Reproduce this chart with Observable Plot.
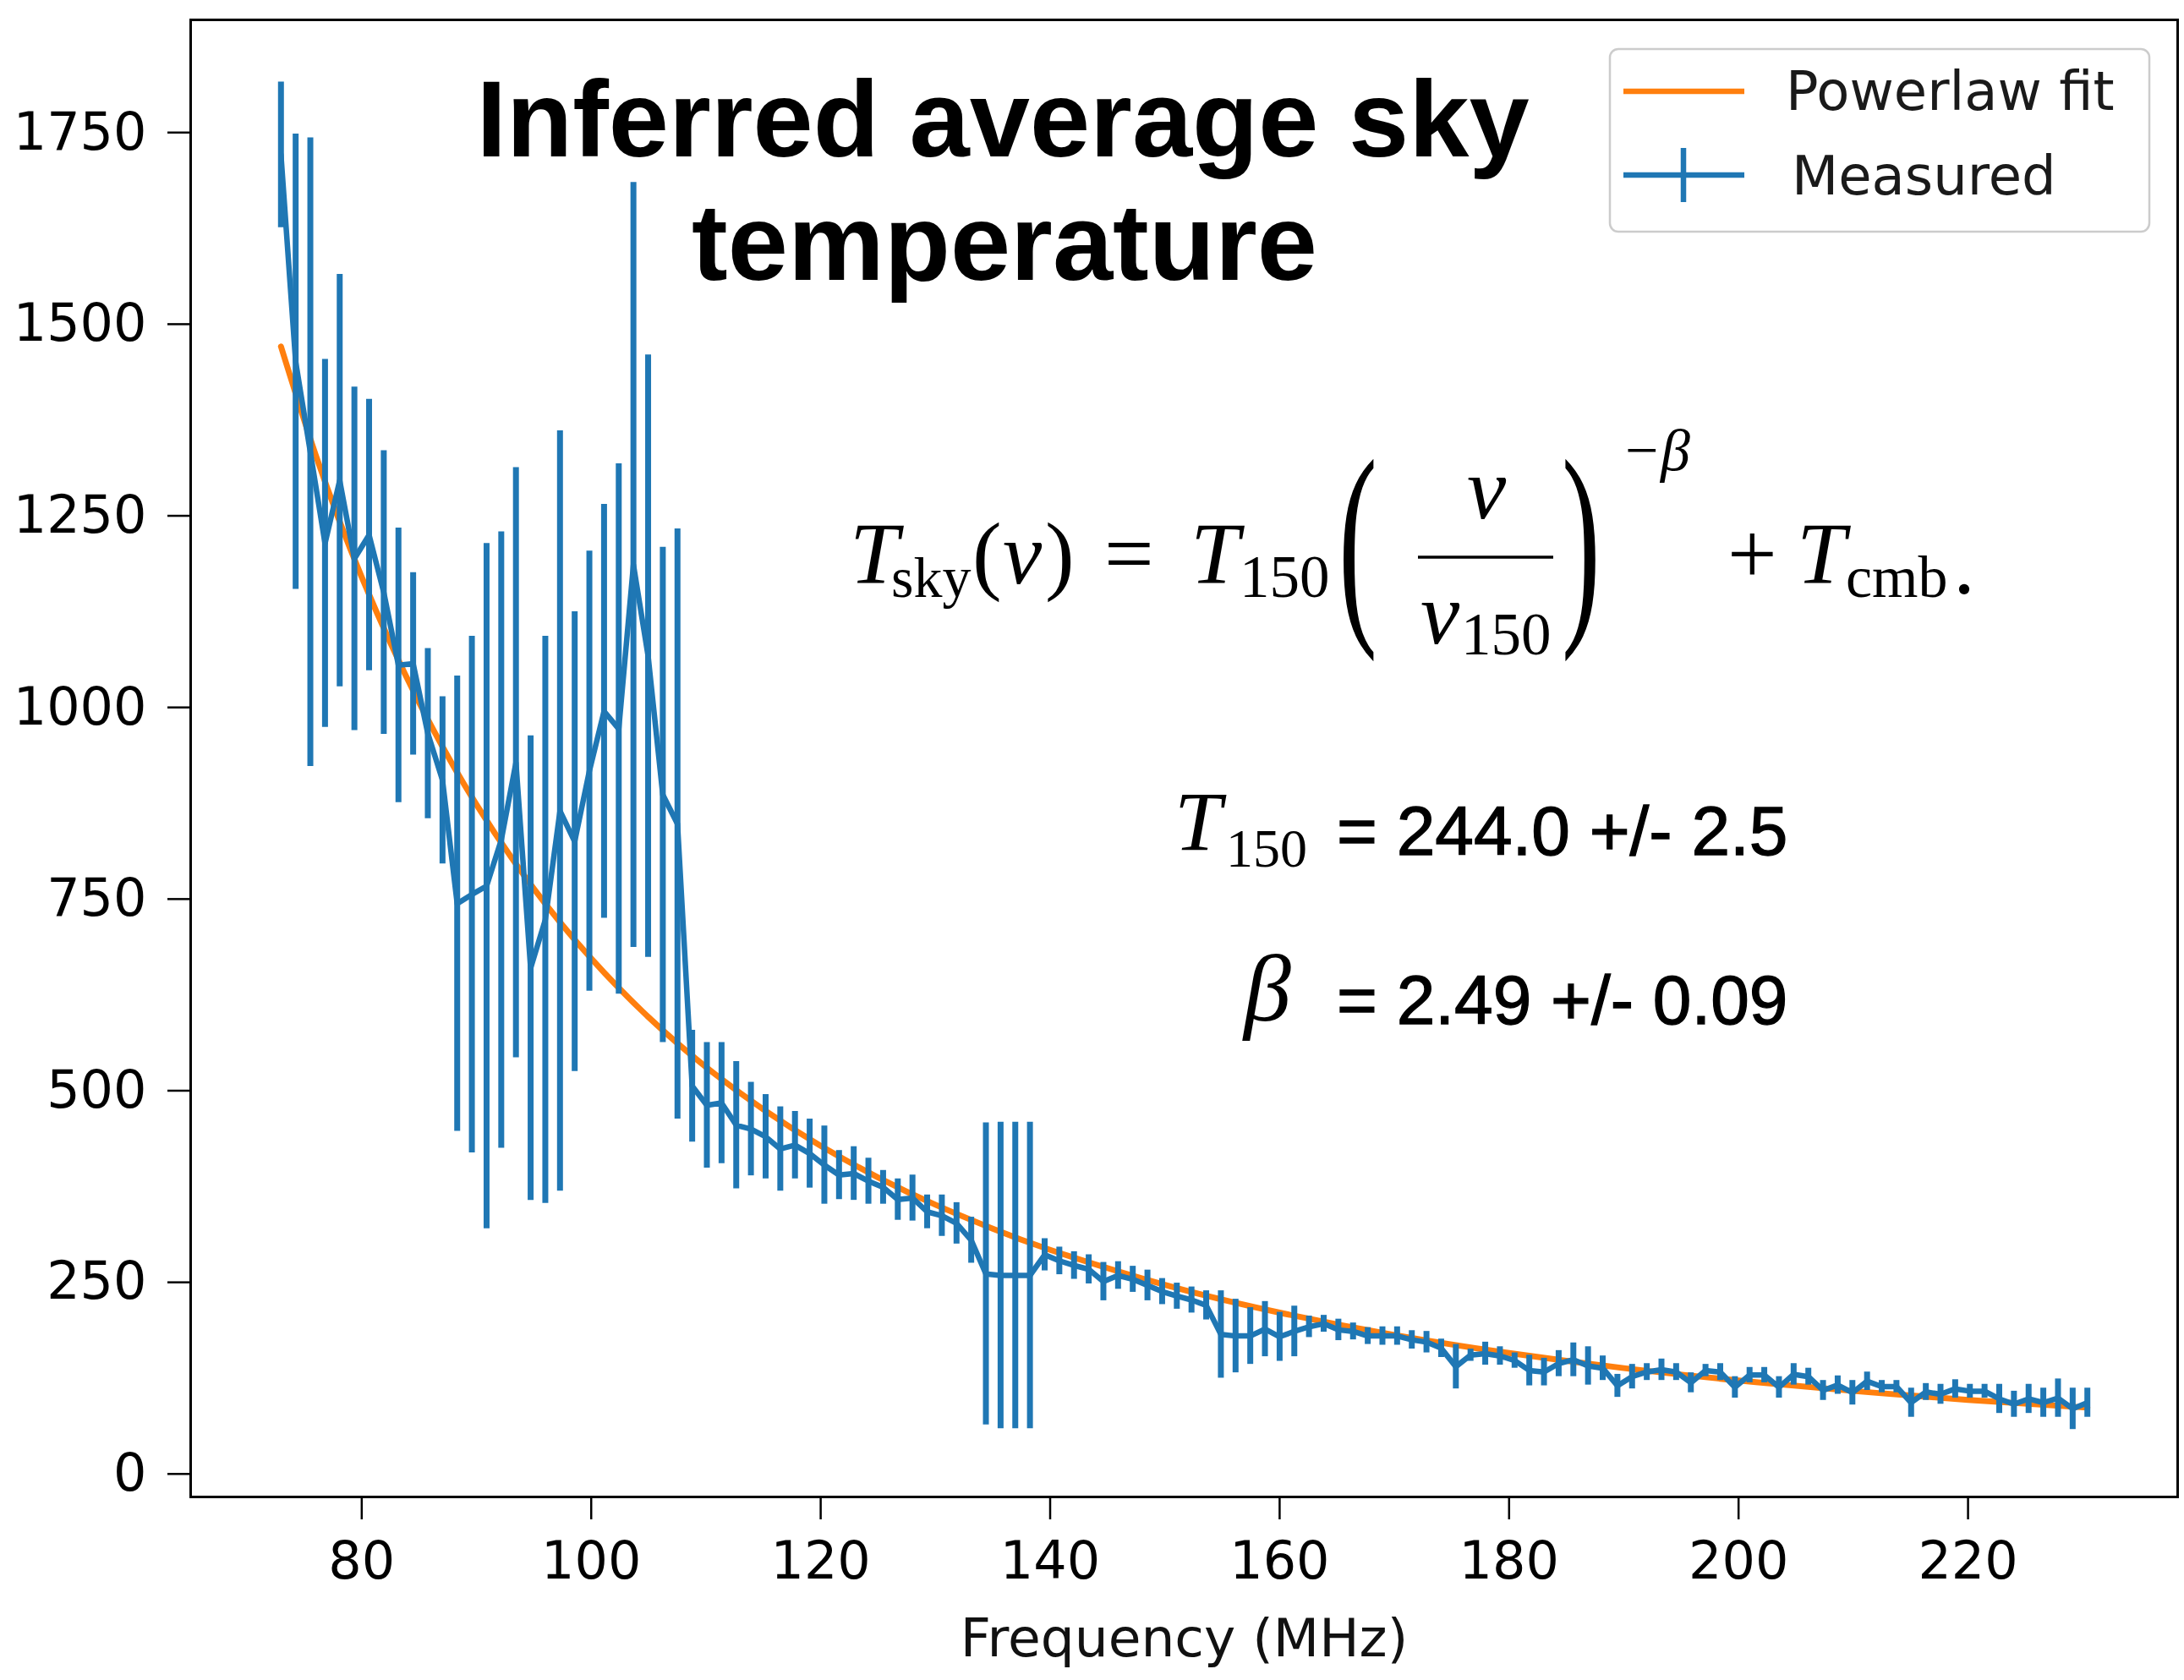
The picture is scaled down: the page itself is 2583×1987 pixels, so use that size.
<!DOCTYPE html>
<html>
<head>
<meta charset="utf-8">
<script src="https://cdn.jsdelivr.net/npm/d3@7"></script>
<script src="https://cdn.jsdelivr.net/npm/@observablehq/plot@0.6"></script>
<style>
  html, body { margin: 0; padding: 0; background: #fff; }
  #wrap { position: relative; width: 2583px; height: 1987px; background: #fff; }
  #overlay { position: absolute; left: 0; top: 0; pointer-events: none; }
</style>
</head>
<body>
<div id="wrap"></div>
<script>
// ---- data ----
const freqMHz = [
  72.96, 74.24, 75.52, 76.80, 78.08, 79.36, 80.64, 81.92, 83.20, 84.48,
  85.76, 87.04, 88.32, 89.60, 90.88, 92.16, 93.44, 94.72, 96.00, 97.28,
  98.56, 99.84, 101.12, 102.40, 103.68, 104.96, 106.24, 107.52, 108.80, 110.08,
  111.36, 112.64, 113.92, 115.20, 116.48, 117.76, 119.04, 120.32, 121.60, 122.88,
  124.16, 125.44, 126.72, 128.00, 129.28, 130.56, 131.84, 133.12, 134.40, 135.68,
  136.96, 138.24, 139.52, 140.80, 142.08, 143.36, 144.64, 145.92, 147.20, 148.48,
  149.76, 151.04, 152.32, 153.60, 154.88, 156.16, 157.44, 158.72, 160.00, 161.28,
  162.56, 163.84, 165.12, 166.40, 167.68, 168.96, 170.24, 171.52, 172.80, 174.08,
  175.36, 176.64, 177.92, 179.20, 180.48, 181.76, 183.04, 184.32, 185.60, 186.88,
  188.16, 189.44, 190.72, 192.00, 193.28, 194.56, 195.84, 197.12, 198.40, 199.68,
  200.96, 202.24, 203.52, 204.80, 206.08, 207.36, 208.64, 209.92, 211.20, 212.48,
  213.76, 215.04, 216.32, 217.60, 218.88, 220.16, 221.44, 222.72, 224.00, 225.28,
  226.56, 227.84, 229.12, 230.40
];
const measuredK = [
  1721, 1451, 1333, 1214, 1296, 1194, 1225, 1150, 1055, 1057,
  966, 905, 744, 756, 767, 827, 928, 660, 723, 865,
  825, 917, 995, 972, 1186, 1067, 886, 848, 506, 481,
  484, 455, 450, 440, 424, 429, 418, 403, 390, 392,
  382, 374, 358, 360, 342, 337, 327, 305, 261, 259,
  259, 259, 286, 278, 272, 267, 251, 259, 254, 246,
  238, 232, 227, 220, 182, 180, 180, 189, 179, 186,
  192, 196, 188, 186, 180, 180, 180, 175, 172, 164,
  140, 155, 157, 154, 148, 135, 133, 144, 149, 141,
  138, 115, 127, 133, 136, 133, 119, 135, 133, 113,
  129, 129, 113, 130, 127, 109, 116, 106, 121, 114,
  114, 93, 107, 104, 111, 108, 108, 98, 91, 98,
  93, 99, 85, 93
];
const errorK = [
  95, 297, 410, 240, 269, 224, 177, 185, 179, 119,
  111, 109, 297, 337, 447, 402, 385, 303, 370, 496,
  300, 287, 270, 346, 499, 393, 323, 385, 73, 82,
  79, 83, 61, 55, 55, 44, 45, 51, 32, 35,
  30, 22, 27, 30, 22, 27, 27, 30, 197, 200,
  200, 200, 21, 18, 18, 19, 25, 18, 17, 20,
  17, 17, 17, 19, 57, 48, 37, 36, 32, 33,
  14, 11, 14, 11, 11, 12, 12, 12, 14, 12,
  29, 8, 15, 12, 10, 20, 18, 17, 22, 25,
  16, 15, 16, 11, 14, 11, 13, 8, 11, 14,
  10, 10, 14, 14, 11, 13, 12, 16, 12, 8,
  8, 19, 11, 13, 12, 9, 9, 19, 17, 19,
  19, 25, 27, 19
];
// powerlaw fit curve
const fitFreqMHz = [72.96, 76, 80, 85, 90, 95, 100, 105, 110, 115, 120, 125, 130, 135, 140, 150, 160, 170, 180, 190, 200, 210, 220, 230.4];
const fitK = [1470.9, 1328.9, 1170.0, 1006.4, 873.3, 763.6, 672.4, 595.8, 530.9, 475.6, 428.0, 386.9, 351.2, 319.9, 292.4, 246.7, 210.5, 181.4, 157.7, 138.1, 121.9, 108.3, 96.7, 86.5];

const xTicks = [80, 100, 120, 140, 160, 180, 200, 220];
const yTicks = [0, 250, 500, 750, 1000, 1250, 1500, 1750];
const xLabel = "Frequency (MHz)";

// ---- tables built from the arrays ----
const measured = freqMHz.map((f, i) => ({f, t: measuredK[i], lo: measuredK[i] - errorK[i], hi: measuredK[i] + errorK[i]}));
const fit = fitFreqMHz.map((f, i) => ({f, t: fitK[i]}));

const BLUE = "#1f77b4", ORANGE = "#ff7f0e";

const chart = Plot.plot({
  width: 2583,
  height: 1987,
  marginLeft: 225,
  marginRight: 8,
  marginTop: 23,
  marginBottom: 217,
  x: {domain: [65.09, 238.27]},
  y: {domain: [-30, 1897]},
  style: {fontFamily: "DejaVu Sans", fontSize: "62px", color: "#000", background: "#fff"},
  marks: [
    Plot.line(fit, {x: "f", y: "t", stroke: ORANGE, strokeWidth: 7, curve: "natural"}),
    Plot.line(measured, {x: "f", y: "t", stroke: BLUE, strokeWidth: 6.5, strokeLinejoin: "round"}),
    Plot.ruleX(measured, {x: "f", y1: "lo", y2: "hi", stroke: BLUE, strokeWidth: 7}),
    Plot.frame({stroke: "#000", strokeWidth: 3}),
    Plot.axisX({ticks: xTicks, tickFormat: d => String(d), tickSize: 27, tickPadding: 25, strokeWidth: 2.5, label: null, fontSize: 62}),
    Plot.axisY({ticks: yTicks, tickFormat: d => String(d), tickSize: 27, tickPadding: 25, strokeWidth: 2.5, label: null, fontSize: 62}),
    Plot.text([xLabel], {frameAnchor: "bottom", dy: 188, lineAnchor: "bottom", fontSize: 63, fill: "#111"})
  ]
});
document.getElementById("wrap").appendChild(chart);

// ---- annotations: title, legend, equation ----
const ov = d3.select("#wrap").append("svg")
  .attr("id", "overlay").attr("width", 2583).attr("height", 1987);

function txt(x, y, s, o = {}) {
  const t = ov.append("text").attr("x", x).attr("y", y).text(s)
    .attr("font-family", o.family || "Liberation Serif")
    .attr("font-size", o.size || 104)
    .attr("fill", o.fill || "#000");
  if (o.italic) t.attr("font-style", "italic");
  if (o.weight) t.attr("font-weight", o.weight);
  if (o.anchor) t.attr("text-anchor", o.anchor);
  if (o.stroke) t.attr("stroke", o.fill || "#000").attr("stroke-width", o.stroke);
  if (o.transform) t.attr("transform", o.transform).attr("x", 0).attr("y", 0);
  return t;
}

// title
txt(1186, 185, "Inferred average sky", {family: "Liberation Sans", size: 128, weight: 700, anchor: "middle"});
txt(1188, 331, "temperature", {family: "Liberation Sans", size: 128, weight: 700, anchor: "middle"});

// legend
ov.append("rect").attr("x", 1904).attr("y", 58).attr("width", 638).attr("height", 216).attr("rx", 10)
  .attr("fill", "#fff").attr("fill-opacity", 0.8).attr("stroke", "#cccccc").attr("stroke-width", 2.5);
ov.append("line").attr("x1", 1920).attr("x2", 2063).attr("y1", 108).attr("y2", 108)
  .attr("stroke", ORANGE).attr("stroke-width", 6.5);
ov.append("line").attr("x1", 1920).attr("x2", 2063).attr("y1", 207).attr("y2", 207)
  .attr("stroke", BLUE).attr("stroke-width", 6.5);
ov.append("line").attr("x1", 1991).attr("x2", 1991).attr("y1", 175).attr("y2", 239)
  .attr("stroke", BLUE).attr("stroke-width", 6.5);
txt(2112, 130, "Powerlaw fit", {family: "DejaVu Sans", size: 64, fill: "#1a1a1a"});
txt(2119, 230, "Measured", {family: "DejaVu Sans", size: 64, fill: "#1a1a1a"});

// equation  T_sky(ν) = T_150 (ν/ν_150)^-β + T_cmb.
const B = 690;
txt(1005, B, "T", {italic: true});
txt(1054, B + 16, "sky", {size: 68});
txt(1150, B, "(", {});
txt(1186, B, "ν", {italic: true});
txt(1236, B, ")", {});
txt(1306, B, "=", {});
txt(1408, B, "T", {italic: true});
txt(1466, B + 16, "150", {size: 71});
txt(0, 0, "(", {size: 110, transform: "translate(1583,726) scale(1.25,2.4)"});
txt(1758, 613, "ν", {italic: true, anchor: "middle"});
ov.append("line").attr("x1", 1677).attr("x2", 1837).attr("y1", 659).attr("y2", 659)
  .attr("stroke", "#000").attr("stroke-width", 3.5);
txt(1680, 761, "ν", {italic: true});
txt(1728, 774, "150", {size: 71});
txt(0, 0, ")", {size: 110, transform: "translate(1847,726) scale(1.25,2.4)"});
txt(1922, 556, "−", {size: 70});
txt(1964, 556, "β", {size: 70, italic: true});
txt(2043, B, "+", {});
txt(2125, B, "T", {italic: true});
txt(2183, B + 16, "cmb", {size: 70});
txt(2310, B + 12, ".", {});

// fitted parameters
txt(1389, 1005, "T", {italic: true, size: 100});
txt(1450, 1025, "150", {size: 64});
txt(1581, 1011, "= 244.0 +/- 2.5", {family: "Liberation Sans", size: 82, stroke: 1.3});
txt(1471, 1207, "β", {italic: true, size: 112});
txt(1581, 1211, "= 2.49 +/- 0.09", {family: "Liberation Sans", size: 82, stroke: 1.3});
</script>
</body>
</html>
